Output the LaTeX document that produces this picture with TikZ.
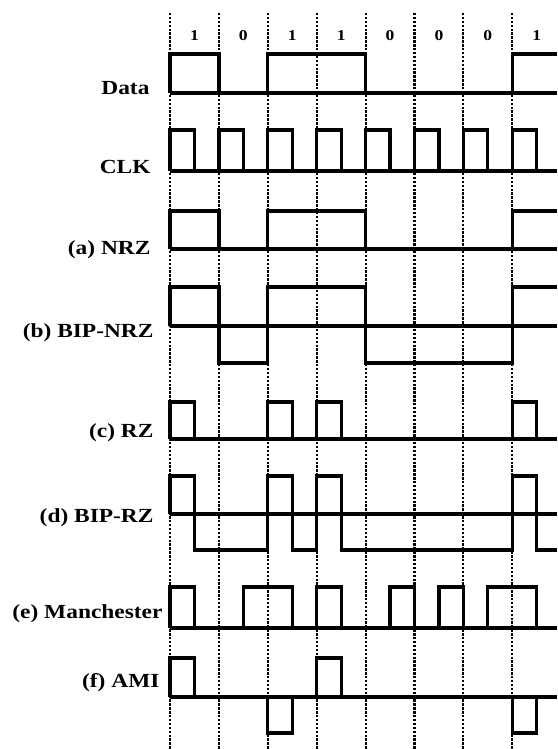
\documentclass[tikz,border=0pt]{standalone}
\usepackage{fontspec}
\setmainfont[FakeStretch=1.17]{Liberation Serif}
\newcommand{\sigpulse}[4] {
\draw[wave] (#1,#3) |- (#2,#4) -- (#2,#3);
}
\tikzset{
  wave/.style={line width=3.2pt},
  bitline/.style={line width=2.1pt, dash pattern=on 2.4pt off 1.5pt},
  lbl/.style={anchor=base east, font=\fontsize{20}{24}\selectfont\bfseries},
  bitlbl/.style={anchor=base, font=\fontsize{15}{18}\selectfont\bfseries}
}
\begin{document}
\begin{tikzpicture}[x=1pt, y=-1pt]
      \useasboundingbox (0,0) rectangle (557,749);
      \node[lbl] (data) at (153,95) {Data};
      \node[lbl] (clk) at (154,173) {CLK};
      \node[lbl] (nrz) at (154,254) {(a) NRZ};
      \node[lbl] (bipnrz) at (157,337) {(b) BIP-NRZ};
      \node[lbl] (rz) at (157,437) {(c) RZ};
      \node[lbl] (biprz) at (157,522) {(d) BIP-RZ};
      \node[lbl] (manch) at (166,618) {(e) Manchester};
      \node[lbl] (ami) at (163,687) {(f) AMI};
      \begin{scope}[xshift=170pt, x=48.9pt]
        \foreach \k in {0,...,7}
          \draw[bitline] (\k,13) -- (\k,749);
        \foreach \b [count=\k from 0] in {1,0,1,1,0,0,0,1}
          \node[bitlbl] (bit\k) at (\k+0.5,41) {\b};
        % data and clock
        \draw[wave] (0,93) -- (7.92,93);
        \draw[wave] (0,93) |- (1,54) |- (2,93) |- (4,54) |- (7,93) |- (7.92,54);
        \draw[wave] (0,171) -- (7.92,171);
        \foreach \k in {0,...,7}
          \sigpulse{\k}{\k+0.5}{171}{130}
        % (a)
        \draw[wave] (0,249) -- (7.92,249);
        \draw[wave] (0,249) |- (1,211) |- (2,249) |- (4,211) |- (7,249) |- (7.92,211);
        % (b)
        \draw[wave] (0,326) -- (7.92,326);
        \draw[wave] (0,326) |- (1,287) |- (2,363) |- (4,287) |- (7,363) |- (7.92,287);
        % (c)
        \draw[wave] (0,439) -- (7.92,439);
        \foreach \k in {0,2,3,7}
          \sigpulse{\k}{\k+0.5}{439}{402}
        % (d)
        \draw[wave] (0,514) -- (7.92,514);
        \draw[wave] (0,514) |- (0.5,476) |- (2,550) |- (2.5,476) |- (3,550) |- (3.5,476) |- (7,550) |- (7.5,476) |- (7.92,550);
        % (e)
        \draw[wave] (0,628) -- (7.92,628);
        \foreach \a/\c in {0/0.5, 1.5/2.5, 3/3.5, 4.5/5, 5.5/6, 6.5/7.5}
          \sigpulse{\a}{\c}{628}{587}
        % (f)
        \draw[wave] (0,697) -- (7.92,697);
        \sigpulse{0}{0.5}{697}{658}
        \sigpulse{2}{2.5}{697}{733}
        \sigpulse{3}{3.5}{697}{658}
        \sigpulse{7}{7.5}{697}{733}
      \end{scope}
\end{tikzpicture}
\end{document}
